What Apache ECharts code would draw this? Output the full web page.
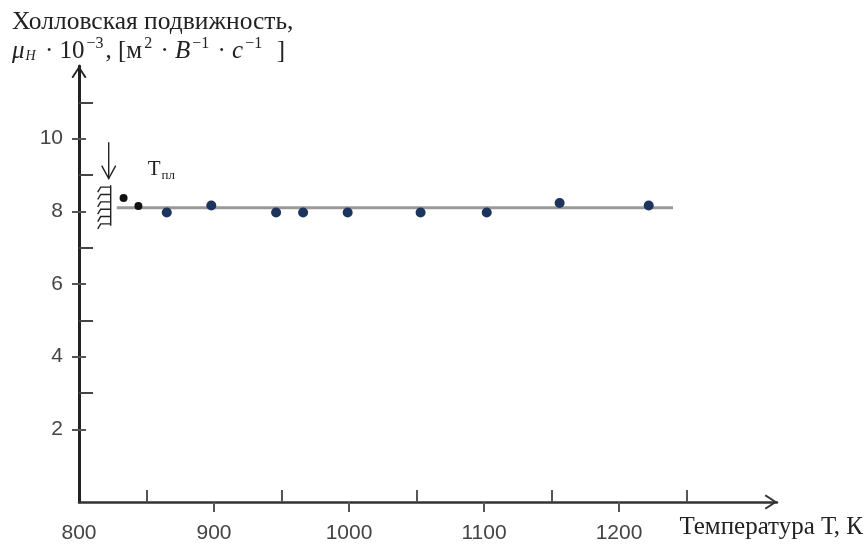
<!DOCTYPE html>
<html><head><meta charset="utf-8">
<script src="https://cdn.jsdelivr.net/npm/echarts@6/dist/echarts.min.js"></script>
<style>html,body{margin:0;padding:0;background:#fff}#c{width:865px;height:546px}</style>
</head><body><div id="c"></div>
<script>
// ---- data ----
const solidT = [833, 844];
const solidMu = [8.37, 8.15];
const liquidT = [865, 898, 946, 966, 999, 1053, 1102, 1156, 1222];
const liquidMu = [7.97, 8.16, 7.97, 7.97, 7.97, 7.97, 7.97, 8.23, 8.16];
const fitT = [828, 1240];
const fitMu = [8.1, 8.1];
const meltT = 822;
const meltArrowMu = [9.9, 8.9];
const meltHatchMu = [8.72, 7.6];
const xLabels = [800, 900, 1000, 1100, 1200];
const xTicksMajor = [900, 1000, 1100, 1200];
const xTicksMinor = [850, 950, 1050, 1150, 1250];
const yLabels = [2, 4, 6, 8, 10];
const yTicksMinor = [3, 5, 7, 9, 11];
const xName = 'Температура Т, К';
const yName1 = 'Холловская подвижность,';

const chevron = 'path://M0,11.5 L7.5,0 L15,11.5 L13.4,12.7 L7.5,3.4 L1.6,12.7 Z';
const chart = echarts.init(document.getElementById('c'), null, {renderer: 'canvas'});
const X = {min: 800, max: 1317};
const Y = {min: 0, max: 12};
const lbl = {fontSize: 21, color: '#444', fontFamily: '"Liberation Sans", sans-serif', formatter: v => String(v)};

chart.setOption({
  animation: false,
  backgroundColor: '#fff',
  grid: {left: 79, top: 66, right: 88, bottom: 44, containLabel: false},
  xAxis: [
    {type: 'value', min: X.min, max: X.max, position: 'bottom',
     axisLine: {show: true, onZero: false, symbol: ['none', chevron], symbolSize: [15, 13], symbolOffset: [0, -6],
       lineStyle: {color: '#333', width: 2.5}},
     axisTick: {show: true, inside: false, length: 10, customValues: xTicksMajor, lineStyle: {color: '#555', width: 2}},
     axisLabel: Object.assign({show: true, margin: 21, customValues: xLabels}, lbl),
     splitLine: {show: false}},
    {type: 'value', min: X.min, max: X.max, position: 'bottom',
     axisLine: {show: false, onZero: false},
     axisTick: {show: true, inside: true, length: 12, customValues: xTicksMinor, lineStyle: {color: '#555', width: 2}},
     axisLabel: {show: false}, splitLine: {show: false}}
  ],
  yAxis: [
    {type: 'value', min: Y.min, max: Y.max, position: 'left',
     axisLine: {show: true, onZero: false, symbol: ['none', chevron], symbolSize: [15, 13], symbolOffset: [0, -6],
       lineStyle: {color: '#222', width: 3}},
     axisTick: {show: true, inside: false, length: 7, customValues: yLabels, lineStyle: {color: '#555', width: 2}},
     axisLabel: Object.assign({show: true, margin: 16, customValues: yLabels}, lbl),
     splitLine: {show: false}},
    {type: 'value', min: Y.min, max: Y.max, position: 'left',
     axisLine: {show: false, onZero: false},
     axisTick: {show: true, inside: true, length: 7, customValues: yLabels, lineStyle: {color: '#555', width: 2}},
     axisLabel: {show: false}, splitLine: {show: false}},
    {type: 'value', min: Y.min, max: Y.max, position: 'left',
     axisLine: {show: false, onZero: false},
     axisTick: {show: true, inside: true, length: 14, customValues: yTicksMinor, lineStyle: {color: '#444', width: 2}},
     axisLabel: {show: false}, splitLine: {show: false}}
  ],
  series: [
    {type: 'line', name: 'fit', xAxisIndex: 0, yAxisIndex: 0, showSymbol: false, symbol: 'none',
     data: fitT.map((t, i) => [t, fitMu[i]]), lineStyle: {color: '#9a9a9a', width: 3}, z: 1},
    {type: 'scatter', name: 'solid', xAxisIndex: 0, yAxisIndex: 0, symbolSize: 8,
     data: solidT.map((t, i) => [t, solidMu[i]]), itemStyle: {color: '#111', opacity: 1}, z: 3},
    {type: 'scatter', name: 'liquid', xAxisIndex: 0, yAxisIndex: 0, symbolSize: 10,
     data: liquidT.map((t, i) => [t, liquidMu[i]]), itemStyle: {color: '#1d355c', opacity: 1}, z: 3}
  ]
});

function px(t, mu) { return chart.convertToPixel({xAxisIndex: 0, yAxisIndex: 0}, [t, mu]); }
const a0 = px(meltT, meltArrowMu[0]), a1 = px(meltT, meltArrowMu[1]);
const h0 = px(meltT, meltHatchMu[0]), h1 = px(meltT, meltHatchMu[1]);
const hx = h0[0] + 2;
const stroke = {stroke: '#222', lineWidth: 1.4, fill: null};
const g = [];
g.push({type: 'line', shape: {x1: a0[0], y1: a0[1], x2: a1[0], y2: a1[1]}, style: stroke});
g.push({type: 'polyline', shape: {points: [[a1[0] - 7, a1[1] - 13], [a1[0], a1[1]], [a1[0] + 7, a1[1] - 13]]}, style: stroke});
g.push({type: 'line', shape: {x1: hx, y1: h0[1], x2: hx, y2: h1[1]}, style: stroke});
const nH = 6;
for (let k = 0; k < nH; k++) {
  const yy = h0[1] + 2 + k * (h1[1] - h0[1] - 4) / (nH - 1);
  g.push({type: 'polyline', shape: {points: [[hx - 13, yy + 5], [hx - 10, yy], [hx, yy]]}, style: stroke});
}
g.push({type: 'text', x: a0[0] + 39, y: a1[1] - 22, style: {
  text: '{t|T}{s|пл}', fill: '#222',
  rich: {t: {fontSize: 21, fontFamily: '"Liberation Serif", serif', fill: '#222'},
         s: {fontSize: 13, fontFamily: '"Liberation Serif", serif', fill: '#222', padding: [12, 0, 0, 1]}}}});
g.push({type: 'text', x: 12, y: 9, style: {text: yName1, font: '25.5px "Liberation Serif", serif', fill: '#222'}});
const serif = '"Liberation Serif", serif';
g.push({type: 'text', x: 12, y: 36, style: {
  text: '{i|μ}{sub|H}{n| · 10}{sup|−3}{n|, [м}{sup|2}{n| · }{i|B}{sup|−1}{n| · }{i|c}{sup|−1}{n|  ]}',
  fill: '#222',
  rich: {
    n: {fontSize: 25, fontFamily: serif, fill: '#222'},
    i: {fontSize: 25, fontFamily: serif, fontStyle: 'italic', fill: '#222'},
    sup: {fontSize: 16, fontFamily: serif, fill: '#222', padding: [0, 2, 14, 2]},
    sub: {fontSize: 14, fontFamily: serif, fontStyle: 'italic', fill: '#222', padding: [10, 3, 0, 1]}
  }}});
g.push({type: 'text', right: 2, top: 515, style: {text: xName, font: '25px "Liberation Serif", serif', fill: '#222'}});
chart.setOption({graphic: g});
</script>
</body></html>
